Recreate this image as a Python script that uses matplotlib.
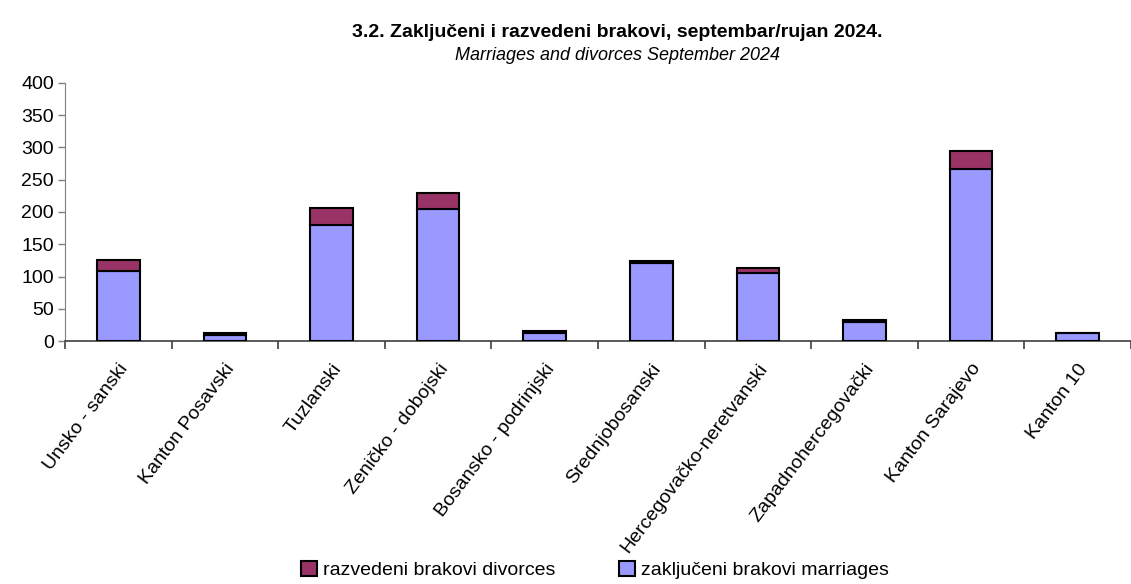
import matplotlib
matplotlib.use("Agg")
import matplotlib.pyplot as plt
import numpy as np
from matplotlib import font_manager

categories = ["Unsko - sanski", "Kanton Posavski", "Tuzlanski", "Zeničko - dobojski",
              "Bosansko - podrinjski", "Srednjobosanski", "Hercegovačko-neretvanski",
              "Zapadnohercegovački", "Kanton Sarajevo", "Kanton 10"]
marriages = [109, 9, 180, 205, 12, 121, 106, 29, 266, 13]
divorces = [16, 4, 26, 25, 4, 3, 7, 3, 29, 0]
yticks = [0, 50, 100, 150, 200, 250, 300, 350, 400]

names = {f.name for f in font_manager.fontManager.ttflist}
fam = "Liberation Sans Narrow" if "Liberation Sans Narrow" in names else "Liberation Sans"
plt.rcParams['font.family'] = [fam, 'DejaVu Sans']

fig = plt.figure(figsize=(11.31, 5.84), dpi=100)
ax = fig.add_axes([0.0575, 0.416, 0.9425, 0.442])

x = np.arange(len(categories))
w = 0.4
ax.bar(x, marriages, w, color="#9999FF", edgecolor="black", linewidth=1.5,
       label="zaključeni brakovi marriages", zorder=3)
ax.bar(x, divorces, w, bottom=marriages, color="#993366", edgecolor="black", linewidth=1.5,
       label="razvedeni brakovi divorces", zorder=3)

ax.set_xlim(-0.5, len(categories) - 0.5)
ax.set_ylim(0, 400)
ax.set_yticks(yticks)
ax.tick_params(axis='y', labelsize=14, length=5, color="#808080", width=1, pad=3)
for sp in ["top", "right"]:
    ax.spines[sp].set_visible(False)
ax.spines["left"].set_color("#808080")
ax.spines["bottom"].set_color("#404040")
ax.spines["bottom"].set_linewidth(1.2)

ax.set_xticks(np.arange(len(categories) + 1) - 0.5)
ax.set_xticklabels([])
ax.tick_params(axis='x', which='major', length=6, color="#404040", width=1.2)
ax.set_xticks(x, minor=True)
ax.set_xticklabels(categories, minor=True, rotation=53, ha="right", rotation_mode="anchor", fontsize=14)
ax.tick_params(axis='x', which='minor', length=0, pad=14)

fig.text(0.546, 0.945, "3.2. Zaključeni i razvedeni brakovi, septembar/rujan 2024.",
         ha="center", va="center", fontsize=14, fontweight="bold")
fig.text(0.546, 0.905, "Marriages and divorces September 2024",
         ha="center", va="center", fontsize=13, style="italic")

h, l = ax.get_legend_handles_labels()
leg = fig.legend([h[1], h[0]], [l[1], l[0]], loc="lower center", bbox_to_anchor=(0.526, -0.022),
                 ncol=2, frameon=False, fontsize=14, handlelength=0.8, handleheight=0.8,
                 handletextpad=0.3, columnspacing=3.3)

fig.savefig("out.png", dpi=100)
